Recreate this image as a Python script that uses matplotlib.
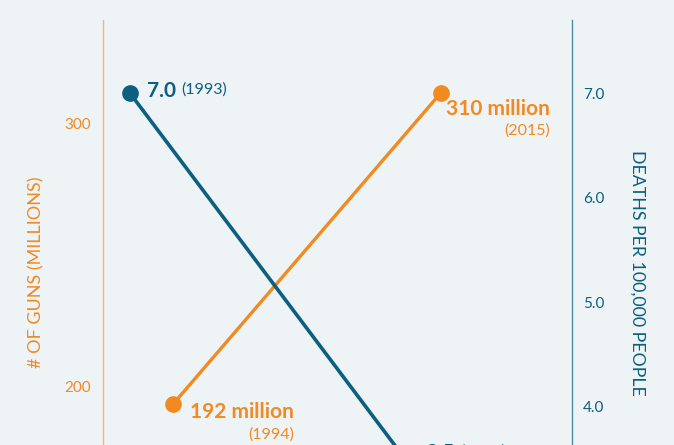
import matplotlib
matplotlib.use("Agg")
import matplotlib.pyplot as plt
from matplotlib.transforms import ScaledTranslation

# data
guns_years = [1994, 2015]
guns_values = [192, 310]
guns_labels = ["192 million", "310 million"]

death_years = [1993, 2013]
death_values = [7.0, 3.5]
death_labels = ["7.0", "3.5"]

left_ticks = [200, 300]
right_ticks = [4.0, 5.0, 6.0, 7.0]

orange = "#f18a21"
blue = "#0b5f7f"
bg = "#eef3f6"

plt.rcParams["font.family"] = ["Lato", "DejaVu Sans"]

fig = plt.figure(figsize=(6.74, 4.45), dpi=100, facecolor=bg)
rect = [103 / 674, -35 / 445, 469 / 674, 1 - 20 / 445 + 35 / 445]

# orange series, left axis
ax = fig.add_axes(rect, facecolor=bg)
ax.plot(guns_years, guns_values, color=orange, lw=2.4, marker="o", ms=11,
        clip_on=False, zorder=3)
ax.set_xlim(1988.5, 2025.3)
ax.set_ylim(163.2, 337.7)
ax.set_yticks(left_ticks)
ax.set_yticklabels([str(t) for t in left_ticks])
ax.tick_params(axis="y", length=0, pad=8.5, colors=orange, labelsize=11)
for lab in ax.get_yticklabels():
    lab.set_transform(lab.get_transform() + ScaledTranslation(0, -4 / 100, fig.dpi_scale_trans))
ax.set_xticks([])
ax.set_ylabel("# OF GUNS (MILLIONS)", color=orange, fontsize=13)
ax.yaxis.set_label_coords(-59 / 469, 0.452)
for s in ["top", "bottom", "right"]:
    ax.spines[s].set_visible(False)
ax.spines["left"].set_color("#f4b37a")
ax.spines["left"].set_linewidth(1)

# blue series, right axis
ax2 = fig.add_axes(rect, facecolor="none")
ax2.plot(death_years, death_values, color=blue, lw=2.6, marker="o", ms=11,
         clip_on=False, zorder=3)
ax2.set_xlim(1991.04, 2025.15)
ax2.set_ylim(3.297, 7.70)
ax2.yaxis.tick_right()
ax2.yaxis.set_label_position("right")
ax2.set_yticks(right_ticks)
ax2.set_yticklabels(["%.1f" % t for t in right_ticks])
ax2.tick_params(axis="y", length=0, pad=8, colors=blue, labelsize=11)
ax2.set_xticks([])
ax2.set_ylabel("DEATHS PER 100,000 PEOPLE", color=blue, fontsize=12.8,
               rotation=270, va="center")
ax2.yaxis.set_label_coords(1 + 65 / 469, 0.45)
for s in ["top", "bottom", "left"]:
    ax2.spines[s].set_visible(False)
ax2.spines["right"].set_color("#4f8ea3")
ax2.spines["right"].set_linewidth(1)

# annotations for guns
ax.annotate(guns_labels[0], (guns_years[0], guns_values[0]), xytext=(87, -6),
            textcoords="offset points", color=orange, fontsize=15,
            fontweight="bold", ha="right", va="center")
ax.annotate("(%d)" % guns_years[0], (guns_years[0], guns_values[0]),
            xytext=(87, -22), textcoords="offset points", color=orange,
            fontsize=11.5, ha="right", va="center")
ax.annotate(guns_labels[1], (guns_years[1], guns_values[1]), xytext=(78.5, -11.5),
            textcoords="offset points", color=orange, fontsize=15,
            fontweight="bold", ha="right", va="center")
ax.annotate("(%d)" % guns_years[1], (guns_years[1], guns_values[1]),
            xytext=(78.5, -27), textcoords="offset points", color=orange,
            fontsize=11.5, ha="right", va="center")

# annotations for deaths
offsets = [(12, 1.5), (14.5, 4.5)]
for i, (yr, v) in enumerate(zip(death_years, death_values)):
    dx, dy = offsets[i]
    ax2.annotate(death_labels[i], (yr, v), xytext=(dx, dy),
                 textcoords="offset points", color=blue, fontsize=15,
                 fontweight="bold", ha="left", va="center")
    ax2.annotate("(%d)" % yr, (yr, v), xytext=(dx + 25, dy + 1),
                 textcoords="offset points", color=blue, fontsize=11.5,
                 ha="left", va="center")

fig.savefig("out.png", dpi=100, facecolor=bg)
